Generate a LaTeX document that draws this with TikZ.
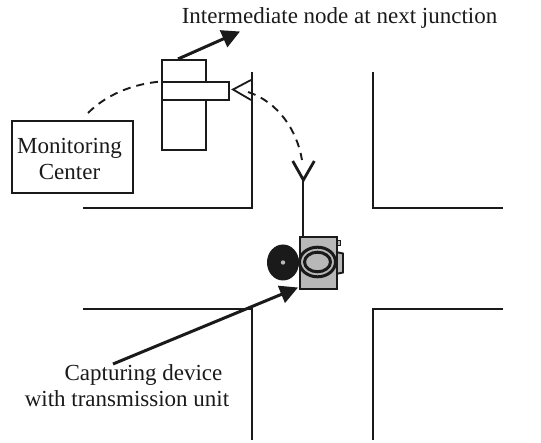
\documentclass[tikz,border=0pt]{standalone}
\usepackage{fontspec}
\setmainfont{Liberation Serif}
\usetikzlibrary{arrows.meta}
\definecolor{ink}{HTML}{1A1A1A}
\definecolor{bodygray}{HTML}{B8B8B8}
\tikzset{
  road/.style={draw=ink,line width=1.7pt},
  boxline/.style={draw=ink,line width=1.7pt},
  thinl/.style={draw=ink,line width=1.7pt},
  dashl/.style={draw=ink,line width=1.9pt,dash pattern=on 8pt off 6pt},
  bigarrow/.style={draw=ink,line width=3pt,-{Triangle[length=18pt,width=18pt,fill=ink]}},
  lbl/.style={font=\fontsize{23}{26}\selectfont,text=ink,inner sep=0pt,anchor=base},
  camline/.style={draw=ink,line width=1.9pt}
}
\begin{document}
\begin{tikzpicture}[x=1pt,y=-1pt]
\useasboundingbox (0,0) rectangle (541,443);
% roads
\draw[road] (252,72) -- (252,208) -- (83,208);
\draw[road] (373,72) -- (373,208) -- (503,208);
\draw[road] (83,309) -- (252,309) -- (252,440);
\draw[road] (503,309) -- (373,309) -- (373,440);
% intermediate node
\node[boxline,fill=white,minimum width=44pt,minimum height=90pt,inner sep=0pt,anchor=north west] (pole) at (161,59) {};
\node[boxline,fill=white,minimum width=67pt,minimum height=18pt,inner sep=0pt,anchor=north west] (bar) at (161,81) {};
% monitoring centre
\node[boxline,fill=white,minimum width=121pt,minimum height=72pt,inner sep=0pt] (mc) at (72.5,157) {};
\node[lbl] (mc1) at (69.5,154) {Monitoring};
\node[lbl] (mc2) at (69.5,180) {Center};
% labels
\node[lbl] (top) at (339.5,24) {Intermediate node at next junction};
\node[lbl] (cap1) at (143.5,380.5) {Capturing device};
\node[lbl] (cap2) at (127,406.5) {with transmission unit};
% antenna receive
\coordinate (rxtip) at (233,89.5);
\coordinate (rxa) at (251,80);
\coordinate (rxb) at (251,100);
\draw[thinl,line width=1.8pt,line join=miter] (rxa) -- (rxtip) -- (rxb);
% camera
\coordinate (antTop) at (303.4,180);
\coordinate (armL) at (292.7,161);
\coordinate (armR) at (314.3,161);
\draw[thinl,line width=2.8pt] (armL) -- (antTop) -- (armR);
\fill[ink] (283,262.5) ellipse [x radius=16, y radius=18];
\fill[bodygray] (283,262.5) circle (2.2);
\draw[camline,fill=bodygray] (336,252) -- (343,253.5) -- (343,272.5) -- (336,274) -- cycle;
\draw[camline,fill=bodygray] (336,240.5) rectangle (340.5,245.5);
\node[camline,fill=bodygray,minimum width=37pt,minimum height=52pt,inner sep=0pt,anchor=north west] (cam) at (299,236) {};
\draw[draw=ink,line width=3pt,fill=bodygray] (317.5,262) ellipse [x radius=18, y radius=14.8];
\draw[draw=ink,line width=3pt,fill=bodygray] (317.5,262) ellipse [x radius=13, y radius=9.8];
\draw[thinl,line width=2.1pt] (antTop) -- (cam.north west -| antTop);
% arrows
\coordinate (n1) at (178,59);
\coordinate (n2) at (240,31.5);
\draw[bigarrow] (n1) -- (n2);
\coordinate (c1) at (113,364);
\coordinate (c2) at (298,287.5);
\draw[bigarrow] (c1) -- (c2);
% dashed
\draw[dashl] (88,113) .. controls (106,95) and (132,84) .. (161,81.5);
\draw[dashl] (248,92) .. controls (278,102) and (297,130) .. (302,160);
\end{tikzpicture}
\end{document}
